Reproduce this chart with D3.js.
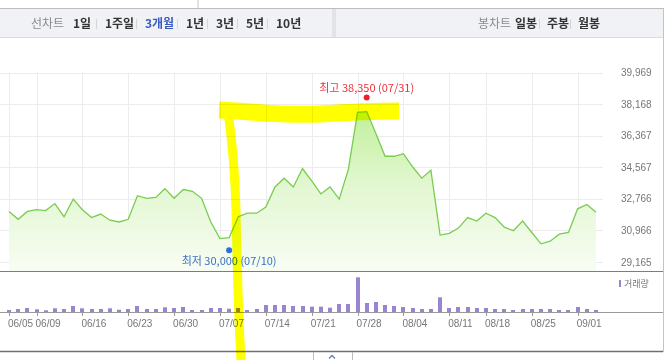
<!DOCTYPE html>
<html>
<head>
<meta charset="utf-8">
<script src="https://cdn.jsdelivr.net/npm/d3@7"></script>
<style>
  body { margin: 0; background: #fff; }
  svg { display: block; font-family: "Noto Sans CJK KR", "Noto Sans", sans-serif; }
</style>
</head>
<body>
<svg id="chart" width="665" height="360"></svg>
<script>
// trading days shown on the 3-month chart
const dates = [
  "06/05","06/07","06/08","06/09","06/12","06/13","06/14","06/15","06/16",
  "06/19","06/20","06/21","06/22","06/23","06/26","06/27","06/28","06/29","06/30",
  "07/03","07/04","07/05","07/06","07/07","07/10","07/11","07/12","07/13","07/14",
  "07/17","07/18","07/19","07/20","07/21","07/24","07/25","07/26","07/27","07/28",
  "07/31","08/01","08/02","08/03","08/04","08/07","08/08","08/09","08/10","08/11",
  "08/14","08/16","08/17","08/18","08/21","08/22","08/23","08/24","08/25",
  "08/28","08/29","08/30","08/31","09/01","09/04","09/05"
];

// closing prices
const closes = [
  32050,31600,32050,32150,32100,32500,31750,32750,32150,
  31700,31900,31550,31450,31600,32950,32800,32850,33350,32800,
  33300,33200,32800,31450,30500,30550,31750,31950,31950,32300,
  33450,33950,33450,34500,33800,33050,33450,32750,34450,37700,
  37750,36500,35200,35200,35350,34600,33950,34400,30700,30800,
  31100,31700,31500,31950,31700,31150,30950,31500,30850,
  30200,30350,30750,30850,32200,32450,32000
];

// volume (thousand shares)
const volumes = [
  60,90,120,81,51,111,90,180,111,
  90,90,111,69,90,180,90,90,141,120,
  150,60,60,120,120,99,120,60,90,210,
  210,210,180,180,159,159,129,240,240,1041,
  270,300,210,180,150,120,90,90,441,120,
  150,150,120,120,90,90,60,90,90,
  90,90,60,60,150,90,60
];

const xTickLabels = ["06/05","06/09","06/16","06/23","06/30","07/07","07/14","07/21","07/28","08/04","08/11","08/18","08/25","09/01"];
const yTickValues = [29165, 30966, 32766, 34567, 36367, 38168, 39969];

const high = { value: 38350, date: "07/31" };
const low = { value: 30000, date: "07/10" };

const lineTabs = ["1일", "1주일", "3개월", "1년", "3년", "5년", "10년"];
const candleTabs = ["일봉", "주봉", "월봉"];

const svg = d3.select("#chart");

// ---- top tab bar ----
svg.append("line").attr("x1", 198).attr("x2", 198).attr("y1", 0).attr("y2", 8).attr("stroke", "#c9c9c9");
svg.append("rect").attr("x", 0).attr("y", 8).attr("width", 663).attr("height", 29).attr("fill", "#f1f2f6");
svg.append("line").attr("x1", 0).attr("x2", 663).attr("y1", 8.5).attr("y2", 8.5).attr("stroke", "#bdbdbd");
svg.append("line").attr("x1", 0).attr("x2", 663).attr("y1", 37.5).attr("y2", 37.5).attr("stroke", "#dadbe0");
svg.append("rect").attr("x", 332).attr("y", 9).attr("width", 4).attr("height", 28).attr("fill", "#e3e3e6");

const lineTabX = [73, 105, 145, 186, 216, 246, 276];
const candleTabX = [515, 547, 578];

svg.append("text").attr("x", 31).attr("y", 28).attr("font-size", 12).attr("fill", "#8a8a8a").text("선차트");
svg.append("text").attr("x", 478).attr("y", 28).attr("font-size", 12).attr("fill", "#8a8a8a").text("봉차트");

lineTabs.forEach((t, i) => {
  svg.append("text").attr("x", lineTabX[i]).attr("y", 28)
    .attr("font-size", 12).attr("font-weight", "bold")
    .attr("fill", t === "3개월" ? "#3b5cc0" : "#333")
    .text(t);
  if (i > 0) {
    svg.append("line").attr("x1", lineTabX[i] - 8.5).attr("x2", lineTabX[i] - 8.5)
      .attr("y1", 19).attr("y2", 29).attr("stroke", "#d6d6d6");
  }
});
candleTabs.forEach((t, i) => {
  svg.append("text").attr("x", candleTabX[i]).attr("y", 28)
    .attr("font-size", 12).attr("font-weight", "bold").attr("fill", "#333").text(t);
  if (i > 0) {
    svg.append("line").attr("x1", candleTabX[i] - 7.5).attr("x2", candleTabX[i] - 7.5)
      .attr("y1", 19).attr("y2", 29).attr("stroke", "#d6d6d6");
  }
});

// right frame
svg.append("line").attr("x1", 663.5).attr("x2", 663.5).attr("y1", 8).attr("y2", 352).attr("stroke", "#c4c4c4");

// ---- scales ----
const x = d3.scalePoint().domain(dates).range([9, 596]);
const y = d3.scaleLinear().domain([29165, 39969]).range([262, 72.7]);
const yVol = d3.scaleLinear().domain([0, 1200]).range([312, 272]);
const plotBottom = 271;
const plotRight = 603;

// grid
svg.append("g").selectAll("line")
  .data(yTickValues).join("line")
  .attr("x1", 0).attr("x2", plotRight)
  .attr("y1", d => Math.round(y(d)) + 0.5).attr("y2", d => Math.round(y(d)) + 0.5)
  .attr("stroke", "#ececec");

svg.append("g").selectAll("line")
  .data(xTickLabels).join("line")
  .attr("x1", d => Math.round(x(d)) + 0.5).attr("x2", d => Math.round(x(d)) + 0.5)
  .attr("y1", y(39969)).attr("y2", plotBottom)
  .attr("stroke", "#ececec");

// y labels
svg.append("g").selectAll("text")
  .data(yTickValues).join("text")
  .attr("x", 621).attr("y", d => y(d) + 3.5)
  .attr("font-size", 10).attr("fill", "#777")
  .attr("font-family", "'Liberation Sans', Arial, sans-serif")
  .text(d => d3.format(",")(d));

// ---- price area + line ----
const grad = svg.append("defs").append("linearGradient")
  .attr("id", "areaGrad").attr("gradientUnits", "userSpaceOnUse")
  .attr("x1", 0).attr("x2", 0).attr("y1", 100).attr("y2", plotBottom);
grad.append("stop").attr("offset", 0).attr("stop-color", "#bdef93");
grad.append("stop").attr("offset", 0.5).attr("stop-color", "#e2f7d1");
grad.append("stop").attr("offset", 1).attr("stop-color", "#f8fdf4");

const area = d3.area()
  .x((d, i) => x(dates[i]))
  .y0(plotBottom)
  .y1(d => y(d));

const line = d3.line()
  .x((d, i) => x(dates[i]))
  .y(d => y(d));

svg.append("path").datum(closes).attr("d", area).attr("fill", "url(#areaGrad)");
svg.append("path").datum(closes).attr("d", line)
  .attr("fill", "none").attr("stroke", "#79cc4f").attr("stroke-width", 1.3);

// plot bottom line
svg.append("line").attr("x1", 0).attr("x2", 663).attr("y1", plotBottom + 0.5).attr("y2", plotBottom + 0.5)
  .attr("stroke", "#7d7d7d");

// ---- high / low markers ----
svg.append("circle").attr("cx", x(high.date)).attr("cy", y(high.value) - 3.5).attr("r", 3).attr("fill", "#f01e28");
svg.append("text").attr("x", x(high.date)).attr("y", y(high.value) - 9)
  .attr("text-anchor", "middle").attr("font-size", 11).attr("fill", "#f0323a")
  .text(`최고 ${d3.format(",")(high.value)} (${high.date})`);

svg.append("circle").attr("cx", x(low.date)).attr("cy", y(low.value) + 3).attr("r", 3).attr("fill", "#2b6fdc");
svg.append("text").attr("x", x(low.date)).attr("y", y(low.value) + 17.5)
  .attr("text-anchor", "middle").attr("font-size", 11).attr("fill", "#3a70c8")
  .text(`최저 ${d3.format(",")(low.value)} (${low.date})`);

// ---- volume ----
svg.append("g").selectAll("rect")
  .data(volumes).join("rect")
  .attr("x", (d, i) => Math.round(x(dates[i]) - 2))
  .attr("width", 4)
  .attr("y", d => yVol(d))
  .attr("height", d => yVol(0) - yVol(d))
  .attr("fill", "#9a84d2");

svg.append("line").attr("x1", 0).attr("x2", 663).attr("y1", 312.5).attr("y2", 312.5).attr("stroke", "#9a9a9a");

// legend
svg.append("rect").attr("x", 619).attr("y", 280).attr("width", 2).attr("height", 7).attr("fill", "#9a84d2");
svg.append("text").attr("x", 624).attr("y", 287).attr("font-size", 9).attr("fill", "#777").text("거래량");

// x axis ticks + labels
svg.append("g").selectAll("line")
  .data(xTickLabels).join("line")
  .attr("x1", d => Math.round(x(d)) + 0.5).attr("x2", d => Math.round(x(d)) + 0.5)
  .attr("y1", 312).attr("y2", 316)
  .attr("stroke", "#999");

svg.append("g").selectAll("text")
  .data(xTickLabels).join("text")
  .attr("x", d => x(d) - 1).attr("y", 327)
  .attr("font-size", 10).attr("fill", "#777")
  .attr("font-family", "'Liberation Sans', Arial, sans-serif")
  .text(d => d);

// bottom frame + collapse tab
svg.append("line").attr("x1", 0).attr("x2", 663).attr("y1", 351.5).attr("y2", 351.5).attr("stroke", "#6f6f6f").attr("stroke-width", 1.5);
svg.append("path").attr("d", "M313.5,352 V360 M352.5,352 V360").attr("stroke", "#bbb");
svg.append("path").attr("d", "M329,358.5 L332,355.5 L335,358.5").attr("stroke", "#6a7fa8").attr("fill", "none").attr("stroke-width", 1.3);

// ---- yellow highlighter scribble ----
const marker = svg.append("g").style("mix-blend-mode", "multiply");
marker.append("path")
  .attr("d", "M219,110 C250,111 280,116 320,114 C350,112 375,111 399,111")
  .attr("fill", "none").attr("stroke", "#ffff00").attr("stroke-width", 17);
marker.append("path")
  .attr("d", "M228,112 C232,140 235,170 236,210 C237,260 238,310 241,360")
  .attr("fill", "none").attr("stroke", "#ffff00").attr("stroke-width", 9);
</script>
</body>
</html>
